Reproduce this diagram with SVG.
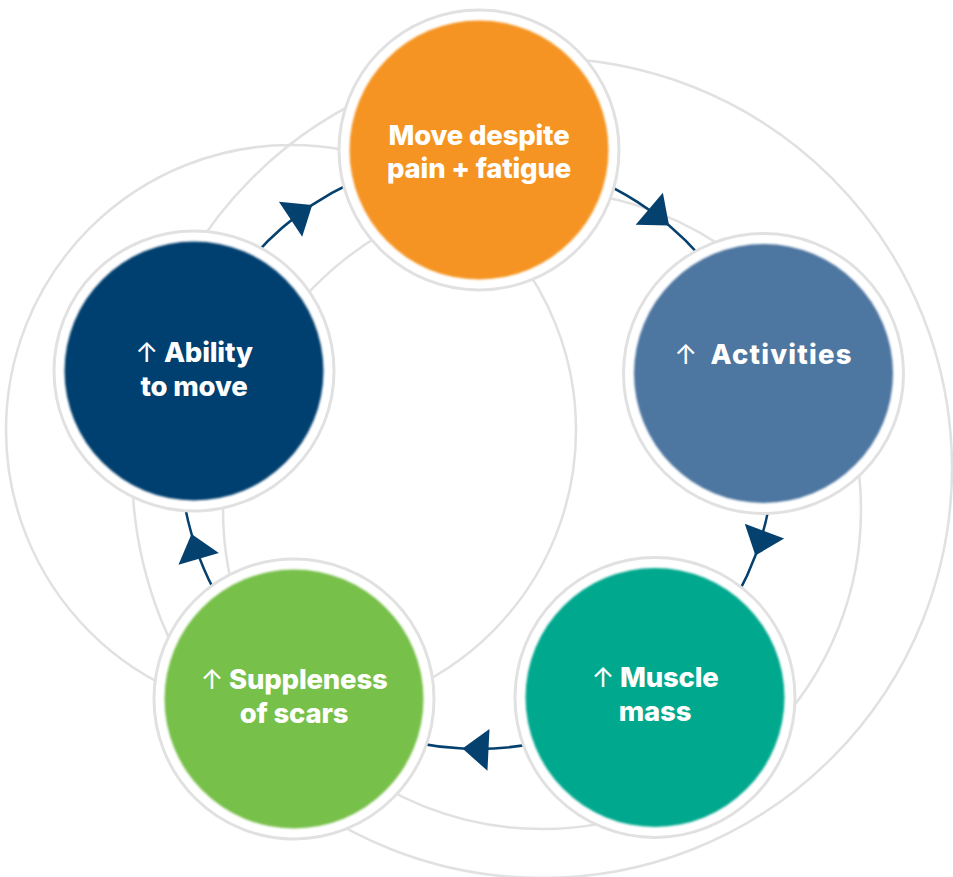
<svg xmlns="http://www.w3.org/2000/svg" width="953" height="877" viewBox="0 0 953 877">
  <defs>
    <style>
      .bg { fill: none; stroke: #e1e1e1; stroke-width: 2.5; }
      .ring { fill: #ffffff; stroke: #e1e1e1; stroke-width: 3; }
      .disc { filter: url(#soft); }
      .link { fill: none; stroke: #05416f; stroke-width: 2.5; marker-mid: url(#head); }
      .label { font-family: Inter, "Liberation Sans", "DejaVu Sans", sans-serif; font-weight: 800; font-size: 27.5px; fill: #ffffff; text-anchor: middle; letter-spacing: -0.2px; }
      .wide { letter-spacing: 1.2px; }
      .up { font-weight: 400; }
    </style>
    <filter id="soft" x="-5%" y="-5%" width="110%" height="110%">
      <feGaussianBlur stdDeviation="1.1"/>
    </filter>
    <marker id="head" markerUnits="userSpaceOnUse" markerWidth="1" markerHeight="1" refX="0" refY="0" orient="auto" overflow="visible">
      <path d="M0,0 L-26,-21 L-26,21 Z" fill="#05416f"/>
    </marker>
  </defs>

  <!-- faint background circles -->
  <g id="backdrop">
    <circle class="bg" cx="291" cy="430" r="285"/>
    <circle class="bg" cx="542" cy="468" r="410"/>
    <circle class="bg" cx="542" cy="510" r="319"/>
  </g>

  <!-- clockwise cycle connectors; the middle vertex carries the arrowhead -->
  <g id="connectors">
    <path class="link" d="M479.1,155 A297,297 0 0 1 669.1,225.5 A297,297 0 0 1 763.3,373.1"/>
    <path class="link" d="M763.3,373.1 A297,297 0 0 1 755.4,555.5 A297,297 0 0 1 651.2,692.6"/>
    <path class="link" d="M651.2,692.6 A297,297 0 0 1 462.5,748.6 A297,297 0 0 1 300.3,690.8"/>
    <path class="link" d="M300.3,690.8 A297,297 0 0 1 191.5,533.9 A297,297 0 0 1 191.5,370.1"/>
    <path class="link" d="M191.5,370.1 A297,297 0 0 1 312.2,204.9 A297,297 0 0 1 479.1,155"/>
  </g>

  <g id="move-despite-pain">
    <circle class="ring" cx="479" cy="150" r="140"/>
    <circle class="disc" cx="479" cy="150" r="129.5" fill="#f59422"/>
    <text class="label" x="479" y="145">Move despite</text>
    <text class="label" x="479" y="178">pain + fatigue</text>
  </g>

  <g id="activities">
    <circle class="ring" cx="763.5" cy="373.5" r="140"/>
    <circle class="disc" cx="763.5" cy="373.5" r="129.5" fill="#4e76a0"/>
    <text class="label wide" x="763.5" y="364"><tspan class="up">↑</tspan><tspan dx="12">Activities</tspan></text>
  </g>

  <g id="muscle-mass">
    <circle class="ring" cx="655" cy="697.5" r="140"/>
    <circle class="disc" cx="655" cy="697.5" r="129.5" fill="#05a88e"/>
    <text class="label" x="655" y="687"><tspan class="up">↑</tspan> Muscle</text>
    <text class="label" x="655" y="721">mass</text>
  </g>

  <g id="suppleness-of-scars">
    <circle class="ring" cx="294" cy="699" r="140"/>
    <circle class="disc" cx="294" cy="699" r="129.5" fill="#77c04a"/>
    <text class="label" x="294" y="689"><tspan class="up">↑</tspan> Suppleness</text>
    <text class="label" x="294" y="723">of scars</text>
  </g>

  <g id="ability-to-move">
    <circle class="ring" cx="194" cy="371" r="140"/>
    <circle class="disc" cx="194" cy="371" r="129.5" fill="#04416f"/>
    <text class="label" x="194" y="362"><tspan class="up">↑</tspan> Ability</text>
    <text class="label" x="194" y="396">to move</text>
  </g>
</svg>
